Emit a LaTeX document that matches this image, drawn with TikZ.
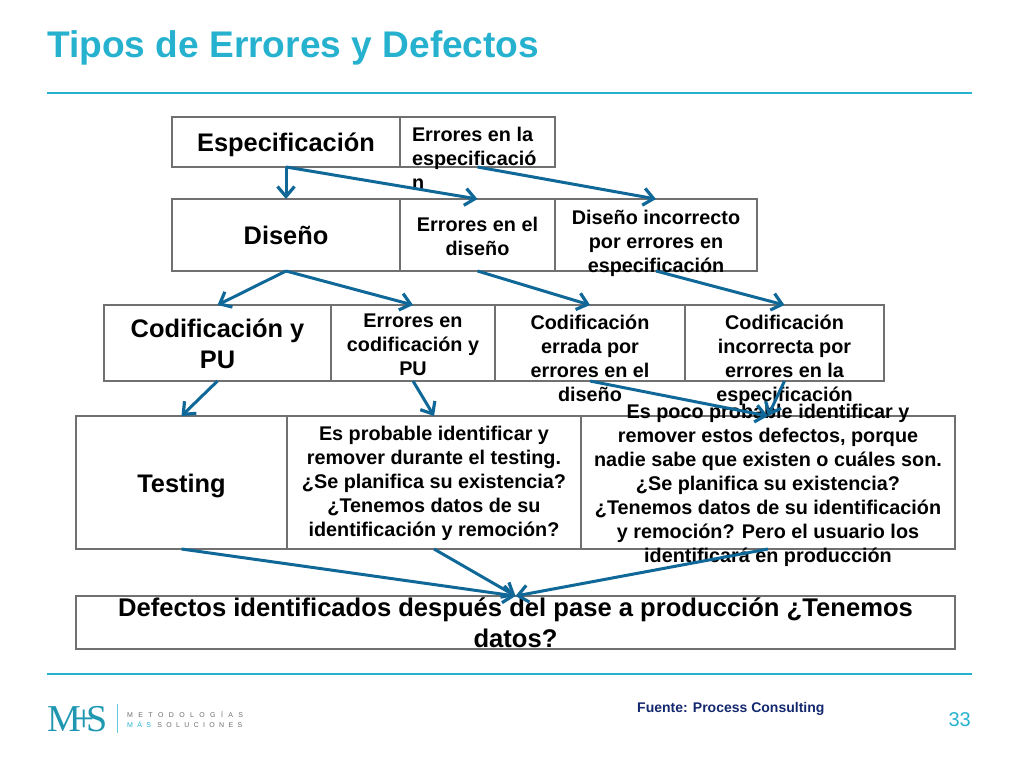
\documentclass[tikz,border=0pt]{standalone}
\usepackage{fontspec}
\usepackage{xcolor}
\usepackage{tikz}
\usetikzlibrary{arrows.meta,positioning}
\setmainfont{Liberation Sans}
\newfontfamily\logoserif{Liberation Serif}
\newfontfamily\logospaced[LetterSpace=77]{Liberation Sans}
\newfontfamily\logospacedb[LetterSpace=62]{Liberation Sans}
\definecolor{titleblue}{RGB}{38,178,207}
\definecolor{boxgray}{RGB}{112,112,112}
\definecolor{arrowblue}{RGB}{16,104,152}
\definecolor{sourcenavy}{RGB}{20,40,110}
\definecolor{logogray}{RGB}{110,110,115}
\newcommand{\celltext}[2][-9pt]{\smash{\raisebox{#1}{\begin{tabular}{@{}c@{}}#2\end{tabular}}}}

\begin{document}
\begin{tikzpicture}[
    x=1pt, y=-1pt,
    cell/.style={rectangle, draw=boxgray, line width=2.8pt, inner sep=0pt, outer sep=0pt, text=black, font=\fontsize{19.8}{24}\selectfont\bfseries},
    headcell/.style={cell, font=\fontsize{25.4}{31}\selectfont\bfseries},
    rowone/.style={minimum height=50pt},
    rowtwo/.style={minimum height=72pt},
    rowthree/.style={minimum height=76pt},
    rowfour/.style={minimum height=133pt},
    arrow/.style={-{Straight Barb[length=10pt,width=17pt,line width=3.2pt]}, draw=arrowblue, line width=3pt},
    rule/.style={draw=titleblue, line width=1.4pt}
]
    \useasboundingbox (0,0) rectangle (1024,768);

    % Title and rules
    \node[anchor=west, inner sep=0pt, text=titleblue, font=\fontsize{37.1}{40}\selectfont\bfseries] (title) at (47,47.5) {Tipos de Errores y Defectos};
    \coordinate (ruletopl) at (47,93);
    \coordinate (ruletopr) at (972,93);
    \coordinate (rulebotl) at (47,674);
    \coordinate (rulebotr) at (972,674);
    \draw[rule] (ruletopl) -- (ruletopr);
    \draw[rule] (rulebotl) -- (rulebotr);

    % Especificacion row
    \node[headcell, rowone, minimum width=228pt] (espec) at (286,142) {\celltext[-10pt]{Especificación}};
    \node[cell, rowone, minimum width=155pt, right=0pt of espec] (errespec) {\smash{\raisebox{-24pt}{\makebox[131pt][l]{\begin{tabular}{@{}l@{}}Errores en la\\especificació\\n\end{tabular}}}}};

    % Diseno row
    \node[headcell, rowtwo, minimum width=228pt] (diseno) at (286,235) {\celltext[-10pt]{Diseño}};
    \node[cell, rowtwo, minimum width=155pt, right=0pt of diseno] (errdiseno) {\celltext{Errores en el\\diseño}};
    \node[cell, rowtwo, minimum width=202pt, right=0pt of errdiseno] (disinc) {\celltext[-13.5pt]{Diseño incorrecto\\por errores en\\especificación}};

    % Codificacion row
    \node[headcell, rowthree, minimum width=227pt] (codif) at (217.5,343) {\celltext[-10pt]{Codificación y\\PU}};
    \node[cell, rowthree, minimum width=164pt, right=0pt of codif] (errcodif) {\celltext{Errores en\\codificación y\\PU}};
    \node[cell, rowthree, minimum width=190pt, right=0pt of errcodif] (coderr) {\celltext[-23pt]{Codificación\\errada por\\errores en el\\diseño}};
    \node[cell, rowthree, minimum width=199pt, right=0pt of coderr] (codinc) {\celltext[-23pt]{Codificación\\incorrecta por\\errores en la\\especificación}};

    % Testing row
    \node[headcell, rowfour, minimum width=211pt] (testing) at (181.5,482.5) {\celltext[-10pt]{Testing}};
    \node[cell, rowfour, minimum width=294pt, right=0pt of testing] (probable) {\celltext[-6pt]{Es probable identificar y\\remover durante el testing.\\¿Se planifica su existencia?\\¿Tenemos datos de su\\identificación y remoción?}};
    \node[cell, rowfour, minimum width=374pt, right=0pt of probable] (pocoprob) {\celltext[-8pt]{Es poco probable identificar y\\remover estos defectos, porque\\nadie sabe que existen o cuáles son.\\¿Se planifica su existencia?\\¿Tenemos datos de su identificación\\y remoción? Pero el usuario los\\identificará en producción}};

    % Defectos row
    \node[headcell, minimum width=879pt, minimum height=53pt, font=\fontsize{25.6}{31}\selectfont\bfseries] (defectos) at (515.5,622.5) {\celltext[-10pt]{Defectos identificados después del pase a producción ¿Tenemos\\datos?}};

    % Arrows
    \draw[arrow] (espec.south) -- (diseno.north);
    \draw[arrow] (espec.south) -- (errdiseno.north);
    \draw[arrow] (errespec.south) -- (disinc.north);
    \draw[arrow] (diseno.south) -- (codif.north);
    \draw[arrow] (diseno.south) -- (errcodif.north);
    \draw[arrow] (errdiseno.south) -- (coderr.north);
    \draw[arrow] (disinc.south) -- (codinc.north);
    \draw[arrow] (codif.south) -- (testing.north);
    \draw[arrow] (errcodif.south) -- (probable.north);
    \draw[arrow] (coderr.south) -- (pocoprob.north);
    \draw[arrow] (codinc.south) -- (pocoprob.north);
    \draw[arrow] (testing.south) -- (defectos.north);
    \draw[arrow] (probable.south) -- (defectos.north);
    \draw[arrow] (pocoprob.south) -- (defectos.north);

    % Footer
    \node[anchor=west, inner sep=0pt, text=sourcenavy, font=\fontsize{14}{16}\selectfont\bfseries] (source) at (637,709) {Fuente: Process Consulting};
    \node[anchor=east, inner sep=0pt, text=titleblue, font=\fontsize{20}{24}\selectfont] (pagenum) at (971,720) {33};

    % Logo
    \node[anchor=west, inner sep=0pt, text=titleblue!85!black, font=\logoserif\fontsize{38}{40}\selectfont] (logomark) at (47,719) {M\kern-8pt+\kern-8pt S};
    \coordinate (logobara) at (117,704);
    \coordinate (logobarb) at (117,733);
    \draw[titleblue!70, line width=0.8pt] (logobara) -- (logobarb);
    \node[anchor=west, inner sep=0pt, text=logogray, font=\logospaced\fontsize{7}{8}\selectfont] (logoone) at (127,714) {METODOLOGÍAS};
    \node[anchor=west, inner sep=0pt, text=logogray, font=\logospacedb\fontsize{7}{8}\selectfont] (logotwo) at (127,724) {\textcolor{titleblue}{MÁS} SOLUCIONES};
\end{tikzpicture}
\end{document}
